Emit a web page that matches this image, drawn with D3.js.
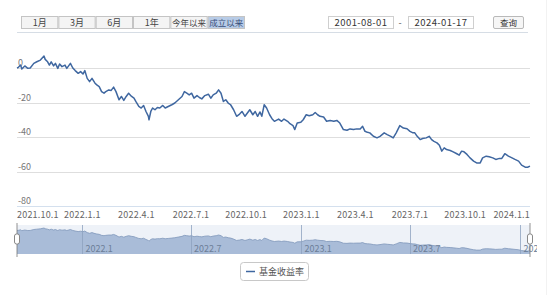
<!DOCTYPE html>
<html>
<head>
<meta charset="utf-8">
<script src="https://cdn.jsdelivr.net/npm/d3@7"></script>
<style>
  body { margin: 0; background: #fff; }
  text { font-family: "Noto Sans CJK SC", "Liberation Sans", sans-serif; }
</style>
</head>
<body>
<div id="chart"></div>
<script>
// range buttons + query box
const rangeButtons = ['1月', '3月', '6月', '1年', '今年以来', '成立以来'];
const dateRange = ['2001-08-01', '2024-01-17'];
const queryLabel = '查询';
const seriesName = '基金收益率';

// y axis ticks (%)
const yTicks = [0, -20, -40, -60, -80];

// x axis ticks
const xTickDates = ['2021-10-01', '2022-01-01', '2022-04-01', '2022-07-01', '2022-10-01',
  '2023-01-01', '2023-04-01', '2023-07-01', '2023-10-01', '2024-01-01'];
const xTickLabels = ['2021.10.1', '2022.1.1', '2022.4.1', '2022.7.1', '2022.10.1',
  '2023.1.1', '2023.4.1', '2023.7.1', '2023.10.1', '2024.1.1'];

// slider ticks
const sliderTickDates = ['2022-01-01', '2022-07-01', '2023-01-01', '2023-07-01', '2024-01-01'];
const sliderTickLabels = ['2022.1', '2022.7', '2023.1', '2023.7', '2024.1'];

// cumulative return
const dates = [
  '2021-09-14', '2021-09-16', '2021-09-20', '2021-09-22', '2021-09-27', '2021-10-02', '2021-10-06', '2021-10-12',
  '2021-10-17', '2021-10-23', '2021-10-29', '2021-10-31', '2021-11-04', '2021-11-07', '2021-11-10', '2021-11-14',
  '2021-11-17', '2021-11-21', '2021-11-24', '2021-11-28', '2021-12-03', '2021-12-06', '2021-12-12', '2021-12-16',
  '2021-12-20', '2021-12-25', '2021-12-29', '2022-01-02', '2022-01-05', '2022-01-09', '2022-01-13', '2022-01-17',
  '2022-01-22', '2022-01-25', '2022-01-29', '2022-02-02', '2022-02-06', '2022-02-09', '2022-02-14', '2022-02-18',
  '2022-02-22', '2022-02-26', '2022-03-03', '2022-03-07', '2022-03-11', '2022-03-15', '2022-03-19', '2022-03-24',
  '2022-03-28', '2022-03-31', '2022-04-05', '2022-04-09', '2022-04-13', '2022-04-17', '2022-04-21', '2022-04-22',
  '2022-04-25', '2022-04-28', '2022-05-02', '2022-05-06', '2022-05-10', '2022-05-15', '2022-05-19', '2022-05-24',
  '2022-05-30', '2022-06-04', '2022-06-10', '2022-06-16', '2022-06-20', '2022-06-24', '2022-06-28', '2022-07-02',
  '2022-07-06', '2022-07-11', '2022-07-15', '2022-07-19', '2022-07-24', '2022-07-30', '2022-08-03', '2022-08-07',
  '2022-08-12', '2022-08-16', '2022-08-20', '2022-08-24', '2022-08-28', '2022-09-01', '2022-09-05', '2022-09-10',
  '2022-09-15', '2022-09-20', '2022-09-24', '2022-09-29', '2022-10-03', '2022-10-07', '2022-10-12', '2022-10-16',
  '2022-10-20', '2022-10-24', '2022-10-27', '2022-10-31', '2022-11-04', '2022-11-09', '2022-11-13', '2022-11-17',
  '2022-11-24', '2022-11-29', '2022-12-03', '2022-12-09', '2022-12-13', '2022-12-18', '2022-12-21', '2022-12-25',
  '2022-12-31', '2023-01-04', '2023-01-09', '2023-01-14', '2023-01-20', '2023-01-24', '2023-01-28', '2023-02-01',
  '2023-02-07', '2023-02-12', '2023-02-18', '2023-02-24', '2023-03-01', '2023-03-06', '2023-03-12', '2023-03-18',
  '2023-03-23', '2023-03-29', '2023-04-03', '2023-04-09', '2023-04-13', '2023-04-17', '2023-04-21', '2023-04-25',
  '2023-05-01', '2023-05-07', '2023-05-12', '2023-05-19', '2023-05-24', '2023-05-30', '2023-06-03', '2023-06-08',
  '2023-06-14', '2023-06-20', '2023-06-26', '2023-07-01', '2023-07-06', '2023-07-09', '2023-07-13', '2023-07-18',
  '2023-07-22', '2023-07-28', '2023-08-02', '2023-08-06', '2023-08-10', '2023-08-15', '2023-08-19', '2023-08-23',
  '2023-08-27', '2023-08-31', '2023-09-06', '2023-09-11', '2023-09-17', '2023-09-21', '2023-09-25', '2023-09-29',
  '2023-10-04', '2023-10-09', '2023-10-15', '2023-10-20', '2023-10-26', '2023-10-30', '2023-11-05', '2023-11-10',
  '2023-11-16', '2023-11-21', '2023-11-27', '2023-12-01', '2023-12-06', '2023-12-12', '2023-12-18', '2023-12-23',
  '2023-12-29', '2024-01-03', '2024-01-09', '2024-01-13', '2024-01-17'
];
const returns = [
  0.0, 0.3, 1.7, -0.6, 1.2, -0.2, 0.0, 2.7,
  3.6, 4.6, 6.9, 5.0, 3.6, 1.7, 3.6, 1.2,
  2.7, -0.2, 2.3, 0.8, 1.7, -0.2, 2.7, 0.0,
  -1.5, -3.1, -2.1, -3.5, -1.5, -6.0, -7.9, -6.0,
  -8.8, -9.8, -10.8, -13.7, -14.6, -13.7, -12.7, -13.0,
  -11.1, -13.7, -18.4, -16.5, -18.8, -16.5, -14.6, -16.5,
  -17.5, -19.4, -22.3, -23.2, -21.7, -25.2, -28.0, -30.0,
  -25.2, -23.2, -24.2, -22.9, -23.2, -21.7, -23.2, -22.3,
  -21.3, -20.3, -18.4, -16.5, -13.7, -14.6, -15.6, -14.6,
  -17.5, -16.0, -17.1, -17.9, -16.0, -15.2, -17.5, -15.6,
  -14.6, -12.7, -14.6, -19.4, -18.4, -20.3, -21.3, -24.2,
  -28.0, -26.7, -25.2, -28.0, -26.1, -24.2, -27.1, -25.2,
  -28.0, -25.5, -28.0, -21.3, -23.2, -27.1, -29.4, -30.9,
  -29.6, -30.9, -29.6, -30.9, -32.3, -33.4, -35.7, -31.9,
  -31.5, -30.0, -27.1, -27.7, -27.1, -25.8, -27.1, -28.0,
  -28.4, -30.9, -30.4, -30.9, -30.4, -31.9, -35.7, -36.1,
  -35.3, -35.7, -35.3, -35.3, -33.8, -36.7, -37.3, -37.6,
  -39.6, -40.5, -39.6, -37.6, -38.6, -39.6, -40.5, -37.6,
  -33.4, -34.8, -35.2, -36.7, -37.6, -37.6, -39.6, -41.5,
  -40.9, -40.5, -39.6, -41.5, -42.5, -43.4, -44.8, -48.2,
  -46.3, -47.3, -47.8, -48.6, -49.7, -50.5, -48.2, -48.6,
  -50.1, -52.1, -54.0, -55.0, -55.0, -52.1, -51.1, -51.5,
  -52.1, -53.0, -52.4, -52.4, -49.7, -51.1, -52.1, -53.0,
  -54.0, -56.3, -57.5, -57.5, -56.9
];

const width = 554;
const height = 295;
const left = 17;
const right = 530;

const parse = d3.timeParse('%Y-%m-%d');
const points = dates.map((d, i) => ({ date: parse(d), value: returns[i] }));

const svg = d3.select('#chart').append('svg')
    .attr('width', width)
    .attr('height', height);

// ---- toolbar ----
const btn = d3.scaleBand()
    .domain(rangeButtons)
    .range([21, 245]);

const buttons = svg.append('g').selectAll('g')
    .data(rangeButtons)
  .enter().append('g')
    .attr('transform', d => `translate(${btn(d)},16)`);

buttons.append('rect')
    .attr('x', 0.5).attr('y', 0.5)
    .attr('width', btn.bandwidth() - 1)
    .attr('height', 12)
    .attr('fill', (d, i) => i === rangeButtons.length - 1 ? '#b7cbe6' : '#f4f4f4')
    .attr('stroke', '#c4c4c4');

buttons.append('text')
    .attr('x', btn.bandwidth() / 2)
    .attr('y', 10)
    .attr('text-anchor', 'middle')
    .attr('font-size', d => d.length > 2 ? 8.5 : 9)
    .attr('fill', (d, i) => i === rangeButtons.length - 1 ? '#3a4f7a' : '#444')
    .text(d => d);

const inputs = svg.append('g').selectAll('g')
    .data(dateRange)
  .enter().append('g')
    .attr('transform', (d, i) => `translate(${i ? 408 : 328},16)`);

inputs.append('rect')
    .attr('x', 0.5).attr('y', 0.5)
    .attr('width', 65).attr('height', 12)
    .attr('fill', '#fff')
    .attr('stroke', '#cfcfcf');

inputs.append('text')
    .attr('x', 33).attr('y', 10)
    .attr('text-anchor', 'middle')
    .attr('font-size', 9.5)
    .attr('letter-spacing', 0.4)
    .attr('fill', '#333')
    .text(d => d);

svg.append('text')
    .attr('x', 400).attr('y', 26)
    .attr('text-anchor', 'middle')
    .attr('font-size', 9)
    .attr('fill', '#555')
    .text('-');

svg.append('rect')
    .attr('x', 493.5).attr('y', 16.5)
    .attr('width', 30).attr('height', 12)
    .attr('rx', 1.5)
    .attr('fill', '#f6f6f6')
    .attr('stroke', '#b9b9b9');

svg.append('text')
    .attr('x', 508.5).attr('y', 26)
    .attr('text-anchor', 'middle')
    .attr('font-size', 8.5)
    .attr('fill', '#333')
    .text(queryLabel);

svg.append('line')
    .attr('x1', left).attr('x2', right - 2)
    .attr('y1', 32.5).attr('y2', 32.5)
    .attr('stroke', '#d6dde5');

svg.append('line')
    .attr('x1', 546.5).attr('x2', 546.5)
    .attr('y1', 0).attr('y2', height)
    .attr('stroke', '#f2f2f2');

// ---- main chart ----
const x = d3.scaleTime()
    .domain(d3.extent(points, d => d.date))
    .range([left, right]);

const y = d3.scaleLinear()
    .domain([-80, 0])
    .range([206, 68]);

svg.append('g').selectAll('line')
    .data(yTicks)
  .enter().append('line')
    .attr('x1', left).attr('x2', right)
    .attr('y1', d => Math.round(y(d)) + 0.5)
    .attr('y2', d => Math.round(y(d)) + 0.5)
    .attr('stroke', d => d === -80 ? '#d4e0ee' : '#dedede')
    .attr('stroke-width', 1.2);

svg.append('g').selectAll('text')
    .data(yTicks)
  .enter().append('text')
    .attr('x', 18)
    .attr('y', d => y(d) - 2)
    .attr('font-size', 9)
    .attr('fill', '#777')
    .text(d => d);

const xLabels = svg.append('g').selectAll('text')
    .data(xTickDates)
  .enter().append('text')
    .attr('y', 218)
    .attr('text-anchor', 'middle')
    .attr('font-size', 9)
    .attr('letter-spacing', 0.2)
    .attr('fill', '#666')
    .text((d, i) => xTickLabels[i]);

// keep labels inside the plot width
xLabels.attr('x', function (d) {
  const w = this.getComputedTextLength();
  return Math.max(left + w / 2, Math.min(right - w / 2, x(parse(d))));
});

const line = d3.line()
    .x(d => x(d.date))
    .y(d => y(d.value));

svg.append('path')
    .datum(points)
    .attr('d', line)
    .attr('fill', 'none')
    .attr('stroke', '#3f67a0')
    .attr('stroke-width', 1.5)
    .attr('stroke-linejoin', 'round');

// ---- data zoom slider ----
const sTop = 225;
const sBottom = 254;

const ys = d3.scaleLinear()
    .domain(d3.extent(returns))
    .range([251, 228]);

svg.append('rect')
    .attr('x', left).attr('y', sTop)
    .attr('width', right - left).attr('height', sBottom - sTop)
    .attr('fill', '#eef2f8');

const area = d3.area()
    .x(d => x(d.date))
    .y0(sBottom)
    .y1(d => ys(d.value));

svg.append('path')
    .datum(points)
    .attr('d', area)
    .attr('fill', '#a9bcd8');

svg.append('path')
    .datum(points)
    .attr('d', line.y(d => ys(d.value)))
    .attr('fill', 'none')
    .attr('stroke', '#7f97ba')
    .attr('stroke-width', 0.8);

svg.append('g').selectAll('line')
    .data(sliderTickDates)
  .enter().append('line')
    .attr('x1', d => Math.round(x(parse(d))) + 0.5)
    .attr('x2', d => Math.round(x(parse(d))) + 0.5)
    .attr('y1', sTop).attr('y2', sBottom)
    .attr('stroke', '#8ea2bf')
    .attr('stroke-width', 0.8);

const clip = svg.append('clipPath').attr('id', 'sclip')
  .append('rect')
    .attr('x', 0).attr('y', sTop)
    .attr('width', 537).attr('height', 40);

svg.append('g')
    .attr('clip-path', 'url(#sclip)')
    .selectAll('text')
    .data(sliderTickDates)
  .enter().append('text')
    .attr('x', d => x(parse(d)) + 3)
    .attr('y', 252)
    .attr('font-size', 9)
    .attr('fill', '#6d7f99')
    .text((d, i) => sliderTickLabels[i]);

// handles
const handles = svg.append('g').selectAll('g')
    .data(x.domain())
  .enter().append('g')
    .attr('transform', d => `translate(${x(d)},0)`);

handles.append('line')
    .attr('y1', sTop - 2).attr('y2', sBottom + 3)
    .attr('stroke', '#777')
    .attr('stroke-width', 0.8);

handles.append('rect')
    .attr('x', -2.5).attr('y', 234)
    .attr('width', 5).attr('height', 10)
    .attr('rx', 2)
    .attr('fill', '#fff')
    .attr('stroke', '#888');

// ---- legend ----
const legend = svg.append('g').attr('transform', 'translate(240,262)');

legend.append('rect')
    .attr('x', 0.5).attr('y', 0.5)
    .attr('width', 68).attr('height', 18)
    .attr('rx', 3)
    .attr('fill', '#fff')
    .attr('stroke', '#c8c8c8');

legend.append('line')
    .attr('x1', 6).attr('x2', 15)
    .attr('y1', 9.5).attr('y2', 9.5)
    .attr('stroke', '#3f67a0')
    .attr('stroke-width', 1.5);

legend.append('text')
    .attr('x', 19).attr('y', 13)
    .attr('font-size', 9)
    .attr('fill', '#555')
    .text(seriesName);
</script>
</body>
</html>
